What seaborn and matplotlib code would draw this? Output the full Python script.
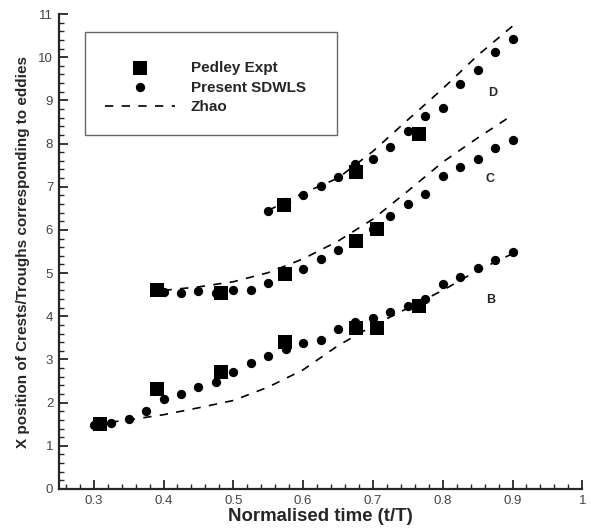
#%%
import numpy as np
import pandas as pd
import matplotlib
matplotlib.use("Agg")
import matplotlib.pyplot as plt
from matplotlib.ticker import MultipleLocator
from matplotlib.patches import Rectangle
import seaborn as sns

#%% data
# Present SDWLS (circles), every 0.025 in t/T
t_B = [0.3, 0.325, 0.35, 0.375, 0.4, 0.425, 0.45, 0.475, 0.5, 0.525, 0.55, 0.575, 0.6,
       0.625, 0.65, 0.675, 0.7, 0.725, 0.75, 0.775, 0.8, 0.825, 0.85, 0.875, 0.9]
sdwls_B = [1.48, 1.52, 1.61, 1.81, 2.08, 2.21, 2.37, 2.48, 2.71, 2.91, 3.09, 3.25, 3.37,
           3.45, 3.70, 3.87, 3.96, 4.10, 4.24, 4.41, 4.74, 4.91, 5.12, 5.30, 5.49]
t_C = [0.4, 0.425, 0.45, 0.475, 0.5, 0.525, 0.55, 0.575, 0.6, 0.625, 0.65, 0.675, 0.7,
       0.725, 0.75, 0.775, 0.8, 0.825, 0.85, 0.875, 0.9]
sdwls_C = [4.57, 4.55, 4.58, 4.55, 4.61, 4.62, 4.76, 4.96, 5.09, 5.33, 5.53, 5.76, 6.01,
           6.32, 6.60, 6.84, 7.25, 7.46, 7.65, 7.89, 8.09]
t_D = [0.55, 0.575, 0.6, 0.625, 0.65, 0.675, 0.7, 0.725, 0.75, 0.775, 0.8, 0.825, 0.85,
       0.875, 0.9]
sdwls_D = [6.44, 6.65, 6.80, 7.01, 7.22, 7.52, 7.65, 7.92, 8.29, 8.64, 8.83, 9.39, 9.70,
           10.11, 10.43]

# Pedley experiment (squares)
t_exp_B = [0.309, 0.391, 0.483, 0.574, 0.676, 0.706, 0.766]
pedley_B = [1.50, 2.31, 2.72, 3.41, 3.72, 3.74, 4.24]
t_exp_C = [0.391, 0.483, 0.574, 0.676, 0.706]
pedley_C = [4.61, 4.53, 4.98, 5.75, 6.03]
t_exp_D = [0.573, 0.676, 0.766]
pedley_D = [6.57, 7.35, 8.23]

# Zhao (dashed)
t_zB = [0.3, 0.35, 0.4, 0.45, 0.5, 0.55, 0.6, 0.65, 0.7, 0.75, 0.8, 0.85, 0.9]
zhao_B = [1.50, 1.60, 1.72, 1.88, 2.05, 2.36, 2.76, 3.32, 3.78, 4.19, 4.60, 5.06, 5.45]
t_zC = [0.4, 0.45, 0.5, 0.55, 0.6, 0.65, 0.7, 0.75, 0.8, 0.85, 0.9]
zhao_C = [4.60, 4.68, 4.80, 5.01, 5.33, 5.74, 6.25, 6.90, 7.57, 8.13, 8.66]
t_zD = [0.55, 0.6, 0.65, 0.7, 0.75, 0.8, 0.85, 0.9]
zhao_D = [6.45, 6.85, 7.20, 7.82, 8.55, 9.27, 10.04, 10.72]

# curve labels
curve_names = ["B", "C", "D"]
curve_label_x = [0.869, 0.868, 0.872]
curve_label_y = [4.38, 7.17, 9.17]

#%%
sns.set_style("ticks")
plt.rcParams["font.family"] = ["Liberation Sans", "DejaVu Sans"]

fig = plt.figure(figsize=(5.91, 5.31), dpi=100)
ax = fig.add_axes([0.0995, 0.0791, 0.8858, 0.8945])

zhao_ls = (0, (5, 5))
for i, (tz, z) in enumerate([(t_zB, zhao_B), (t_zC, zhao_C), (t_zD, zhao_D)]):
    sns.lineplot(x=tz, y=z, ax=ax, color="black", linestyle=zhao_ls, linewidth=1.2,
                 label="Zhao" if i == 0 else None, legend=False)

for i, (te, p) in enumerate([(t_exp_B, pedley_B), (t_exp_C, pedley_C), (t_exp_D, pedley_D)]):
    sns.scatterplot(x=te, y=p, ax=ax, marker="s", s=110, color="black", linewidth=0,
                    label="Pedley Expt" if i == 0 else None, legend=False, zorder=3)

for i, (ts, s) in enumerate([(t_B, sdwls_B), (t_C, sdwls_C), (t_D, sdwls_D)]):
    sns.scatterplot(x=ts, y=s, ax=ax, marker="o", s=45, color="black", linewidth=0,
                    label="Present SDWLS" if i == 0 else None, legend=False, zorder=4)

for name, lx, ly in zip(curve_names, curve_label_x, curve_label_y):
    ax.text(lx, ly, name, ha="center", va="center", fontsize=9, fontweight="bold")

ax.set_xlim(0.25, 1.0)
ax.set_ylim(0, 11)
ax.xaxis.set_minor_locator(MultipleLocator(0.02))
ax.yaxis.set_major_locator(MultipleLocator(1))
ax.yaxis.set_minor_locator(MultipleLocator(0.2))
ax.set_xticks(np.arange(0.3, 1.01, 0.1))
ax.set_xticklabels(["0.3", "0.4", "0.5", "0.6", "0.7", "0.8", "0.9", "1"])

sns.despine(ax=ax)
for side in ["left", "bottom"]:
    ax.spines[side].set_linewidth(1.6)
ax.tick_params(which="major", direction="in", length=6.5, width=1.3,
               labelsize=9.5, labelcolor="#444444", pad=4)
ax.tick_params(which="minor", direction="in", length=3.5, width=1.0)

ax.set_xlabel("Normalised time (t/T)", fontsize=13.4, fontweight="bold", labelpad=1)
ax.set_ylabel("X position of Crests/Troughs corresponding to eddies", fontsize=11,
              fontweight="bold", labelpad=6)

# legend: box drawn separately, entries placed inside it
fig.patches.append(Rectangle((85 / 591, 1 - 135 / 531), 252 / 591, 103 / 531,
                             transform=fig.transFigure, fill=False,
                             edgecolor="#666666", linewidth=1.0))
handles, labels = ax.get_legend_handles_labels()
order = [labels.index(l) for l in ["Pedley Expt", "Present SDWLS", "Zhao"]]
fig.legend([handles[k] for k in order], [labels[k] for k in order],
           loc="upper left", bbox_to_anchor=(105 / 591, 1 - 61 / 531),
           borderaxespad=0, borderpad=0, frameon=False,
           prop={"weight": "bold", "size": 11}, handlelength=4.6,
           handletextpad=1.0, labelspacing=0.36)

fig.savefig("out.png", dpi=100)
